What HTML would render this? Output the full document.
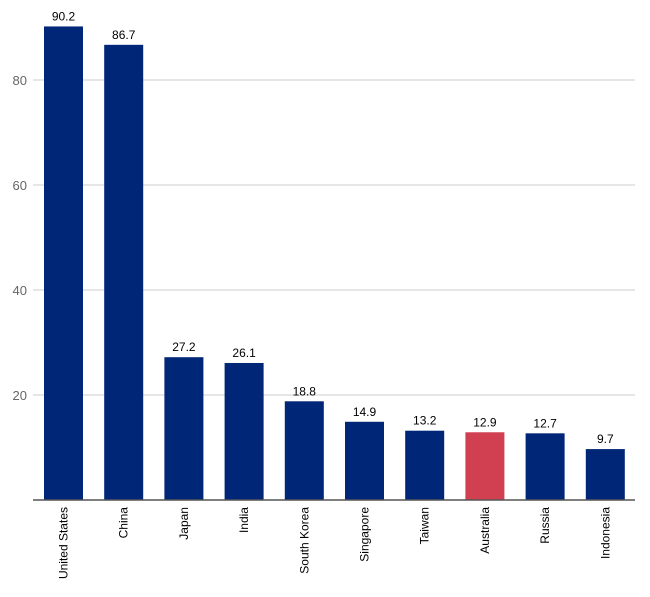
<!DOCTYPE html>
<html><head><meta charset="utf-8"><style>
body{margin:0;background:#fff;}
svg{display:block;font-family:"Liberation Sans",sans-serif;}
</style></head><body>
<svg id="chart" width="650" height="597" viewBox="0 0 650 597" xmlns="http://www.w3.org/2000/svg"></svg>
<script>
const categories = ["United States","China","Japan","India","South Korea","Singapore","Taiwan","Australia","Russia","Indonesia"];
const values = [90.2,86.7,27.2,26.1,18.8,14.9,13.2,12.9,12.7,9.7];
const yTicks = [20,40,60,80];
const highlight = "Australia";

const svg = document.getElementById('chart');
const NS = "http://www.w3.org/2000/svg";
const x0 = 33, x1 = 635, baseY = 500, pxPerUnit = 5.25;
const barStart = 44, step = 60.2, barW = 39;
function yScale(v){ return baseY - v*pxPerUnit; }
function xScale(i){ return barStart + i*step; }
function mk(tag, attrs){ const e=document.createElementNS(NS,tag); for(const k in attrs) e.setAttribute(k,attrs[k]); svg.appendChild(e); return e; }

yTicks.forEach(t=>{
  const g = mk('line',{x1:x0,x2:x1,y1:yScale(t),y2:yScale(t),stroke:'#cccccc','stroke-width':1});
  
  
  const l = mk('text',{x:27,y:yScale(t)+5,'text-anchor':'end','font-size':13,fill:'#666'});
  l.textContent = t;
  
  
});

categories.forEach((c,i)=>{
  const v = values[i];
  const r = mk('rect',{x:xScale(i),y:yScale(v),width:barW,height:baseY-yScale(v),fill:c===highlight?'#d04050':'#002677'});
  
  
  const vl = mk('text',{x:xScale(i)+barW/2,y:yScale(v)-6,'text-anchor':'middle','font-size':12,fill:'#000'});
  vl.textContent = v.toFixed(1);
  
  
  const cx = xScale(i)+barW/2+4, ty = 507;
  const cl = mk('text',{x:cx,y:ty,'text-anchor':'end','font-size':12,fill:'#000',transform:`rotate(-90 ${cx} ${ty})`});
  cl.textContent = c;
  
  
});

const ax = mk('line',{x1:x0,x2:x1,y1:baseY,y2:baseY,stroke:'#555','stroke-width':1.5});


</script>
</body></html>
